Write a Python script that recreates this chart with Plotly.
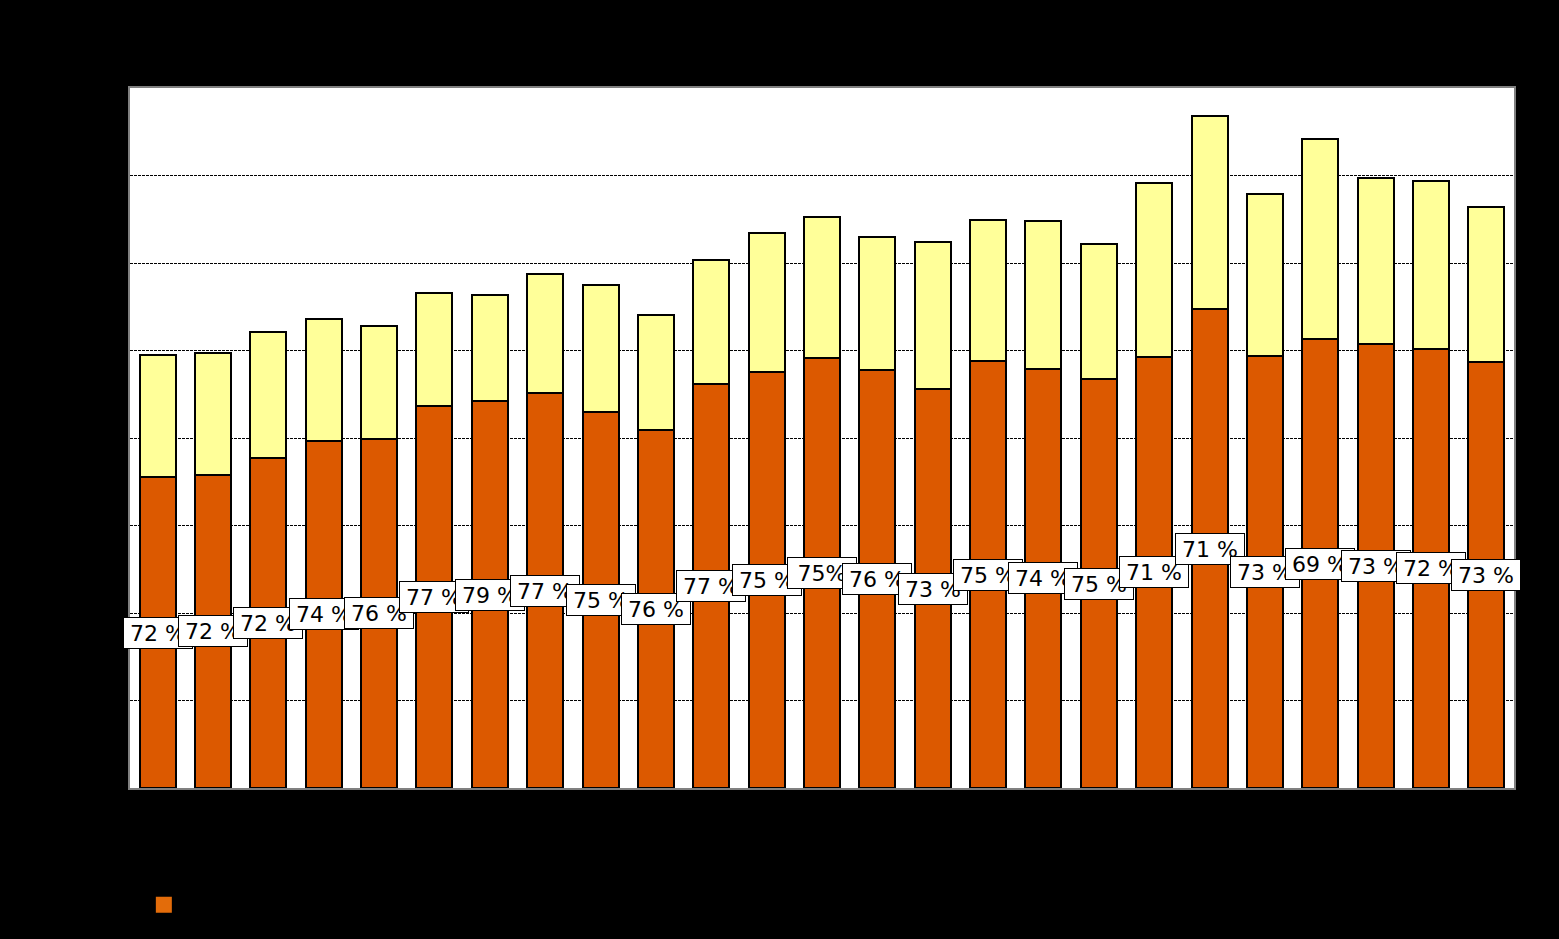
import plotly.graph_objects as go

categories = [str(i) for i in range(1, 26)]
lower_values = [355, 358, 377, 397, 399, 437, 442, 451, 430, 409, 462, 475, 491,
                478, 456, 488, 479, 467, 493, 547, 494, 513, 507, 502, 487]
total_values = [495, 497, 521, 536, 528, 566, 563, 587, 575, 541, 603, 634, 653,
                630, 624, 649, 648, 622, 691, 768, 679, 742, 697, 694, 664]
upper_values = [t - l for t, l in zip(total_values, lower_values)]
pct_labels = ["72 %", "72 %", "72 %", "74 %", "76 %", "77 %", "79 %", "77 %", "75 %",
              "76 %", "77 %", "75 %", "75%", "76 %", "73 %", "75 %", "74 %", "75 %",
              "71 %", "71 %", "73 %", "69 %", "73 %", "72 %", "73 %"]
series_names = ["Serie 1", "Serie 2"]

ORANGE = "#DC5900"
YELLOW = "#FFFF99"
FONT = "DejaVu Sans"

idx = list(range(len(categories)))

fig = go.Figure()
fig.add_trace(go.Bar(x=idx, y=lower_values, name=series_names[0],
                     marker=dict(color=ORANGE, line=dict(color="black", width=2)),
                     showlegend=False))
fig.add_trace(go.Bar(x=idx, y=upper_values, name=series_names[1],
                     marker=dict(color=YELLOW, line=dict(color="black", width=2)),
                     showlegend=False))
# legend marker
fig.add_trace(go.Scatter(x=[idx[0]], y=[None], mode="markers", name=series_names[0],
                         marker=dict(symbol="square", size=16, color="#E36C0A"),
                         showlegend=True, hoverinfo="skip"))

for i, l, t in zip(idx, lower_values, pct_labels):
    fig.add_annotation(x=i, y=l / 2, xref="x", yref="y", text=t, showarrow=False,
                       font=dict(family=FONT, size=22, color="black"),
                       bgcolor="white", bordercolor="black", borderwidth=1,
                       borderpad=4, width=60, height=22, align="center",
                       xanchor="center", yanchor="middle")

fig.update_layout(
    width=1559, height=939, autosize=False,
    paper_bgcolor="black", plot_bgcolor="white",
    margin=dict(l=130, r=45, t=88, b=151),
    barmode="stack", bargap=0.35,
    font=dict(family=FONT, size=14, color="black"),
    showlegend=True,
    legend=dict(x=0.01, xanchor="left", y=-0.167, yanchor="middle",
                orientation="h", bgcolor="rgba(0,0,0,0)",
                font=dict(family=FONT, size=16, color="black")),
)
fig.update_xaxes(range=[-0.5, len(categories) - 0.5], tickvals=idx, ticktext=categories,
                 showline=True, linecolor="#808080", linewidth=2,
                 mirror=True, showgrid=False, zeroline=False,
                 tickfont=dict(color="black"), ticks="")
fig.update_yaxes(range=[0, 800], dtick=100, showline=True, linecolor="#808080",
                 linewidth=2, mirror=True, showgrid=True, gridcolor="black",
                 gridwidth=1, griddash="3px,1px", zeroline=False,
                 tickfont=dict(color="black"), ticks="")

fig.write_html("out.html", config={"displayModeBar": False},
               post_script="document.body.style.margin='0';"
                           "document.body.style.background='black';"
                           "document.body.style.overflow='hidden';")
